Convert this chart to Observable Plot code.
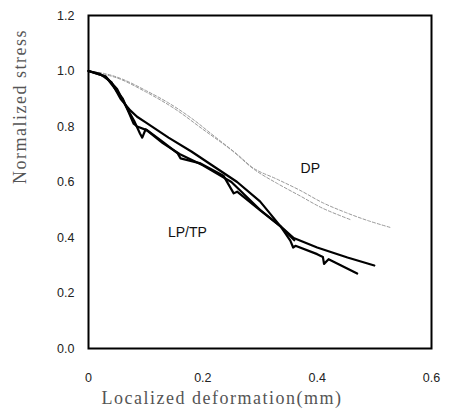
<!DOCTYPE html>
<html>
<head>
<meta charset="utf-8">
<script src="https://cdn.jsdelivr.net/npm/d3@7"></script>
<script src="https://cdn.jsdelivr.net/npm/@observablehq/plot@0.6"></script>
<style>
  html, body { margin: 0; padding: 0; background: #fff; }
</style>
</head>
<body>
<div id="chart"></div>
<script>
// Tick values and labels
const xTicks = [0, 0.2, 0.4, 0.6];
const xTickLabels = ["0", "0.2", "0.4", "0.6"];
const yTicks = [0, 0.2, 0.4, 0.6, 0.8, 1.0, 1.2];
const yTickLabels = ["0.0", "0.2", "0.4", "0.6", "0.8", "1.0", "1.2"];
const xTitle = "Localized deformation(mm)";
const yTitle = "Normalized stress";

// DP curves (dotted gray)
const dp1X = [0, 0.03, 0.06, 0.10, 0.14, 0.18, 0.22, 0.26, 0.29, 0.33, 0.37, 0.41, 0.45, 0.49, 0.53];
const dp1Y = [1.0, 0.99, 0.97, 0.93, 0.885, 0.83, 0.765, 0.70, 0.648, 0.61, 0.57, 0.525, 0.49, 0.46, 0.435];
const dp2X = [0, 0.05, 0.10, 0.15, 0.20, 0.25, 0.29, 0.33, 0.37, 0.41, 0.46];
const dp2Y = [1.0, 0.975, 0.925, 0.865, 0.79, 0.715, 0.645, 0.595, 0.55, 0.505, 0.463];

// LP/TP curves (black)
const lpAX = [0, 0.02, 0.04, 0.056, 0.073, 0.085, 0.10, 0.14, 0.18, 0.22, 0.26, 0.30, 0.336, 0.359, 0.40, 0.453, 0.50];
const lpAY = [1.0, 0.99, 0.96, 0.90, 0.858, 0.835, 0.815, 0.76, 0.71, 0.655, 0.60, 0.53, 0.44, 0.398, 0.364, 0.328, 0.299];
const lpBX = [0, 0.03, 0.05, 0.065, 0.08, 0.09, 0.094, 0.10, 0.13, 0.16, 0.20, 0.25, 0.30, 0.336, 0.353, 0.358, 0.362, 0.40, 0.41, 0.412, 0.42, 0.47];
const lpBY = [1.0, 0.98, 0.935, 0.875, 0.82, 0.775, 0.76, 0.79, 0.74, 0.70, 0.66, 0.60, 0.50, 0.44, 0.389, 0.364, 0.37, 0.34, 0.33, 0.305, 0.322, 0.27];
const lpCX = [0, 0.03, 0.06, 0.079, 0.085, 0.103, 0.13, 0.156, 0.161, 0.196, 0.236, 0.254, 0.26, 0.301, 0.336, 0.36];
const lpCY = [1.0, 0.98, 0.90, 0.81, 0.80, 0.786, 0.745, 0.703, 0.685, 0.667, 0.623, 0.559, 0.565, 0.497, 0.44, 0.39];

// Labels
const labelText = ["DP", "LP/TP"];
const labelX = [0.388, 0.173];
const labelY = [0.649, 0.418];

function toRows(name, xs, ys) { return xs.map((x, i) => ({series: name, x, y: ys[i]})); }
const dpRows = [...toRows("DP1", dp1X, dp1Y), ...toRows("DP2", dp2X, dp2Y)];
const lpRows = [...toRows("A", lpAX, lpAY), ...toRows("B", lpBX, lpBY), ...toRows("C", lpCX, lpCY)];
const labels = labelText.map((t, i) => ({t, x: labelX[i], y: labelY[i]}));

const serif = "'Liberation Serif', 'DejaVu Serif', serif";

const chart = Plot.plot({
  width: 451,
  height: 415,
  marginLeft: 88,
  marginRight: 20,
  marginTop: 15,
  marginBottom: 67,
  style: {fontFamily: "'Liberation Sans', Arial, sans-serif", fontSize: "12.5px", color: "#222", background: "#fff"},
  x: {domain: [0, 0.6]},
  y: {domain: [0, 1.2]},
  marks: [
    Plot.axisX({ticks: xTicks, tickFormat: d => xTickLabels[xTicks.indexOf(d)], tickSize: 0, tickPadding: 25, label: null}),
    Plot.axisY({ticks: yTicks, tickFormat: d => yTickLabels[yTicks.findIndex(v => Math.abs(v - d) < 1e-9)], tickSize: 0, tickPadding: 14, label: null}),
    Plot.text([xTitle], {text: d => d, frameAnchor: "bottom", dx: -38, dy: 55, fontFamily: serif, fontSize: 18, fill: "#555", style: "letter-spacing:1.5px"}),
    Plot.text([yTitle], {text: d => d, frameAnchor: "left", dx: -68, dy: 2, rotate: -90, fontFamily: serif, fontSize: 18, fill: "#555"}),
    Plot.line(dpRows, {x: "x", y: "y", z: "series", stroke: "#9a9a9a", strokeWidth: 1, strokeDasharray: "3,2", curve: "catmull-rom"}),
    Plot.line(lpRows, {x: "x", y: "y", z: "series", stroke: "#000", strokeWidth: 2.2, curve: "linear"}),
    Plot.text(labels, {x: "x", y: "y", text: "t", fontSize: 14, fill: "#111"}),
    Plot.frame({stroke: "#000", strokeWidth: 2})
  ]
});
chart.querySelectorAll("text").forEach(t => {
  if (t.textContent === xTitle || t.textContent === yTitle) t.style.letterSpacing = "1.5px";
});
document.getElementById("chart").appendChild(chart);
</script>
</body>
</html>
